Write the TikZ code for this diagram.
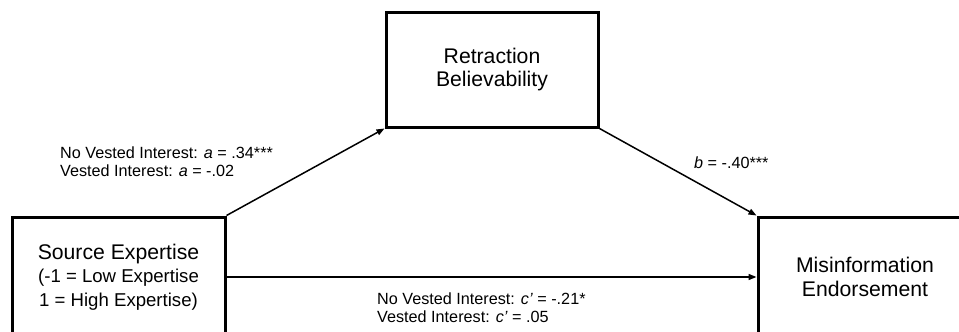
\documentclass[tikz,border=0pt]{standalone}
\usepackage{fontspec}
\setmainfont{Liberation Sans}
\usetikzlibrary{arrows.meta}
\begin{document}
\begin{tikzpicture}
[x=1pt,y=-1pt, box/.style={draw,line width=3pt,minimum width=213pt,minimum height=120pt,align=center,inner sep=0pt,font=\fontsize{21.2}{23.5}\selectfont},
lab/.style={anchor=west,align=left,inner sep=0pt,font=\fontsize{16.2}{17.5}\selectfont}, arr/.style={line width=1.5pt,-{Triangle[length=8pt,width=6pt]}}]
\useasboundingbox (0,0) rectangle (959,332);\clip (0,0) rectangle (959,332);
\node(src) at (118.5,277)[box]{Source Expertise\\\fontsize{18.6}{23.5}\selectfont (-1 = Low Expertise\\\fontsize{18.6}{23.5}\selectfont 1 = High Expertise)};
\node(ret) at (492,69.5)[box,minimum width=212pt,minimum height=115pt]{Retraction\\Believability};
\node(mis) at (865,277)[box,minimum width=214pt]{Misinformation\\Endorsement};
\draw[arr](src.north east)--(ret.south west);\draw[arr](ret.south east)--(mis.north west);\draw[arr](src.east)--(mis.west);
\node(la) at (60,161.5)[lab]{No Vested Interest: \textit{a} = .34***\\Vested Interest: \textit{a} = -.02};
\node(lb) at (694,163)[lab]{\textit{b} = -.40***};
\node(lc) at (377,307.5)[lab]{No Vested Interest: \textit{c’} = -.21*\\Vested Interest: \textit{c’} = .05};
\end{tikzpicture}
\end{document}
